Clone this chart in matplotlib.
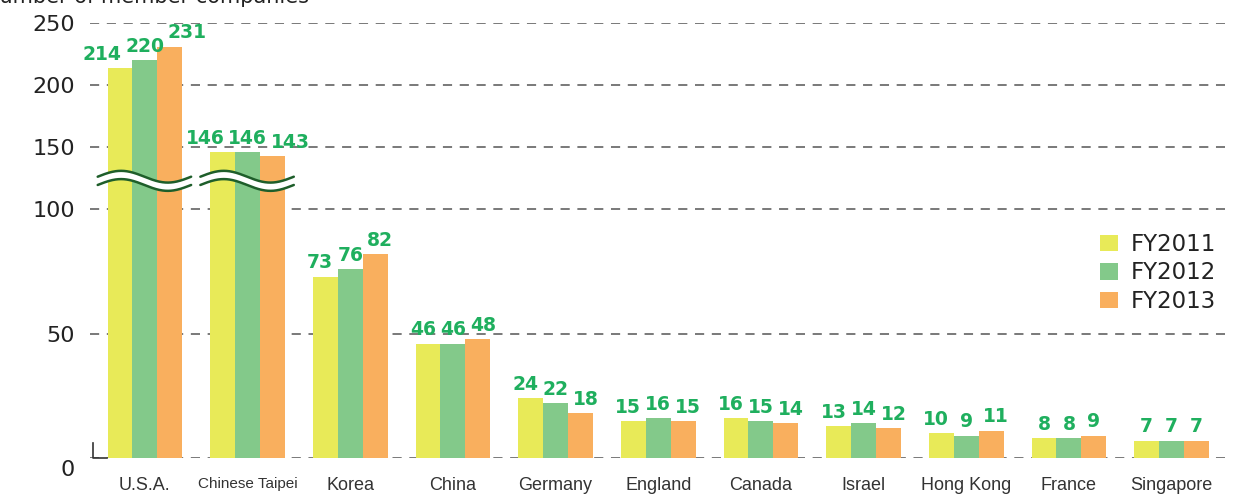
import numpy as np
import matplotlib
matplotlib.use("Agg")
import matplotlib.pyplot as plt
from matplotlib import font_manager
from matplotlib.transforms import blended_transform_factory, ScaledTranslation
from matplotlib.patches import Patch

# ---------------- data ----------------
countries = ["U.S.A.", "Chinese Taipei", "Korea", "China", "Germany", "England",
             "Canada", "Israel", "Hong Kong", "France", "Singapore"]
fy2011 = [214, 146, 73, 46, 24, 15, 16, 13, 10, 8, 7]
fy2012 = [220, 146, 76, 46, 22, 16, 15, 14, 9, 8, 7]
fy2013 = [231, 143, 82, 48, 18, 15, 14, 12, 11, 9, 7]
series_names = ["FY2011", "FY2012", "FY2013"]
y_ticks = [0, 50, 100, 150, 200, 250]
y_label = "Number of member companies"
broken_groups = ["U.S.A.", "Chinese Taipei"]
break_value = 123

colors = ["#E8EA58", "#83C98A", "#F9AF5E"]
label_color = "#1FAF5E"

# ---------------- scale ----------------
def fwd(v):
    v = np.asarray(v, dtype=float)
    return np.where(v <= 100, v, 100 + (v - 100) * 0.5)

def inv(u):
    u = np.asarray(u, dtype=float)
    return np.where(u <= 100, u, 100 + (u - 100) * 2.0)

W, H = 1249, 495
DPI = 100
px2pt = 72.0 / DPI
fig = plt.figure(figsize=(W / DPI, H / DPI), dpi=DPI)
ax = fig.add_axes([90 / W, (H - 458) / H, (1225 - 90) / W, (458 - 23) / H])
ax.set_yscale("function", functions=(fwd, inv))
ax.set_ylim(0, 250)
ax.set_xlim(-0.535, 10.52)

x = np.arange(len(countries))
bw = 0.243
all_series = [fy2011, fy2012, fy2013]
for i, (vals, c) in enumerate(zip(all_series, colors)):
    ax.bar(x + (i - 1) * bw, vals, width=bw, color=c, edgecolor="none", zorder=2)

# value labels, spread apart so they don't collide
for g in range(len(countries)):
    vals_g = [s[g] for s in all_series]
    nmax = max(len(str(v)) for v in vals_g)
    spacing_px = max(25.0, nmax * 12.5 + 5)
    for i, v in enumerate(vals_g):
        ax.annotate(str(v), (x[g], v),
                    xytext=((i - 1) * spacing_px * px2pt, 3),
                    textcoords="offset points",
                    ha="center", va="bottom", fontsize=13.5, fontweight="bold",
                    color=label_color, family="DejaVu Sans", zorder=5)

# grid
ax.set_yticks(y_ticks)
ax.set_yticklabels([str(t) for t in y_ticks])
ax.yaxis.grid(True, linestyle=(0, (6, 5)), color="#555555", linewidth=1.1, zorder=0)
ax.set_axisbelow(True)
for s in ax.spines.values():
    s.set_visible(False)
ax.tick_params(axis="y", length=0, pad=11, labelsize=16, labelcolor="#222222")
ax.tick_params(axis="x", length=0, pad=13.5, labelcolor="#333333")

ax.set_xticks(x)
ax.set_xticklabels(countries)
try:
    font_manager.findfont("Liberation Sans Narrow", fallback_to_default=False)
    narrow = True
except Exception:
    narrow = False
for lab in ax.get_xticklabels():
    lab.set_family(["Liberation Sans"])
    lab.set_fontsize(13)
    if lab.get_text() == "Chinese Taipei":
        if narrow:
            lab.set_family(["Liberation Sans Narrow", "Liberation Sans"])
            lab.set_fontsize(13)
        else:
            lab.set_fontsize(11)

# offset "0" label downward
ylabs = ax.get_yticklabels()
ylabs[0].set_transform(ylabs[0].get_transform() + ScaledTranslation(0, -10 / DPI, fig.dpi_scale_trans))

# break marks
trans = blended_transform_factory(ax.transData, ax.transAxes)
yc = float(fwd(break_value)) / 175.0
for name in broken_groups:
    ci = countries.index(name)
    t = np.linspace(0, 1, 200)
    xs = ci - 0.46 + t * 0.91
    center = yc + 0.0135 * np.sin(2 * np.pi * t)
    top = center + 0.0095
    bot = center - 0.0095
    ax.fill_between(xs, bot, top, color="white", transform=trans, zorder=3, lw=0)
    ax.plot(xs, top, color="#1E5E2A", lw=1.8, transform=trans, zorder=4, solid_capstyle="round")
    ax.plot(xs, bot, color="#1E5E2A", lw=1.8, transform=trans, zorder=4, solid_capstyle="round")

# small L stub
ax.plot([0.0026, 0.0026, 0.015], [0.0345, 0.0, 0.0], color="#333333", lw=1.2,
        transform=ax.transAxes, clip_on=False, zorder=4)

# legend
handles = [Patch(facecolor=c, edgecolor="none") for c in colors]
leg = fig.legend(handles, series_names, loc="upper left",
                 bbox_to_anchor=(1100 / W, 1 - 233 / H), frameon=False,
                 fontsize=16.5, handlelength=0.8, handleheight=0.75,
                 handletextpad=0.55, labelspacing=0.24, borderpad=0, borderaxespad=0)
for t in leg.get_texts():
    t.set_color("#222222")

# y label (cut off at top)
fig.text(-15.7 / W, 1 - 3 / H, y_label, fontsize=15, color="#222222",
         ha="left", va="baseline", family="DejaVu Sans")

fig.savefig("out.png", dpi=DPI)
